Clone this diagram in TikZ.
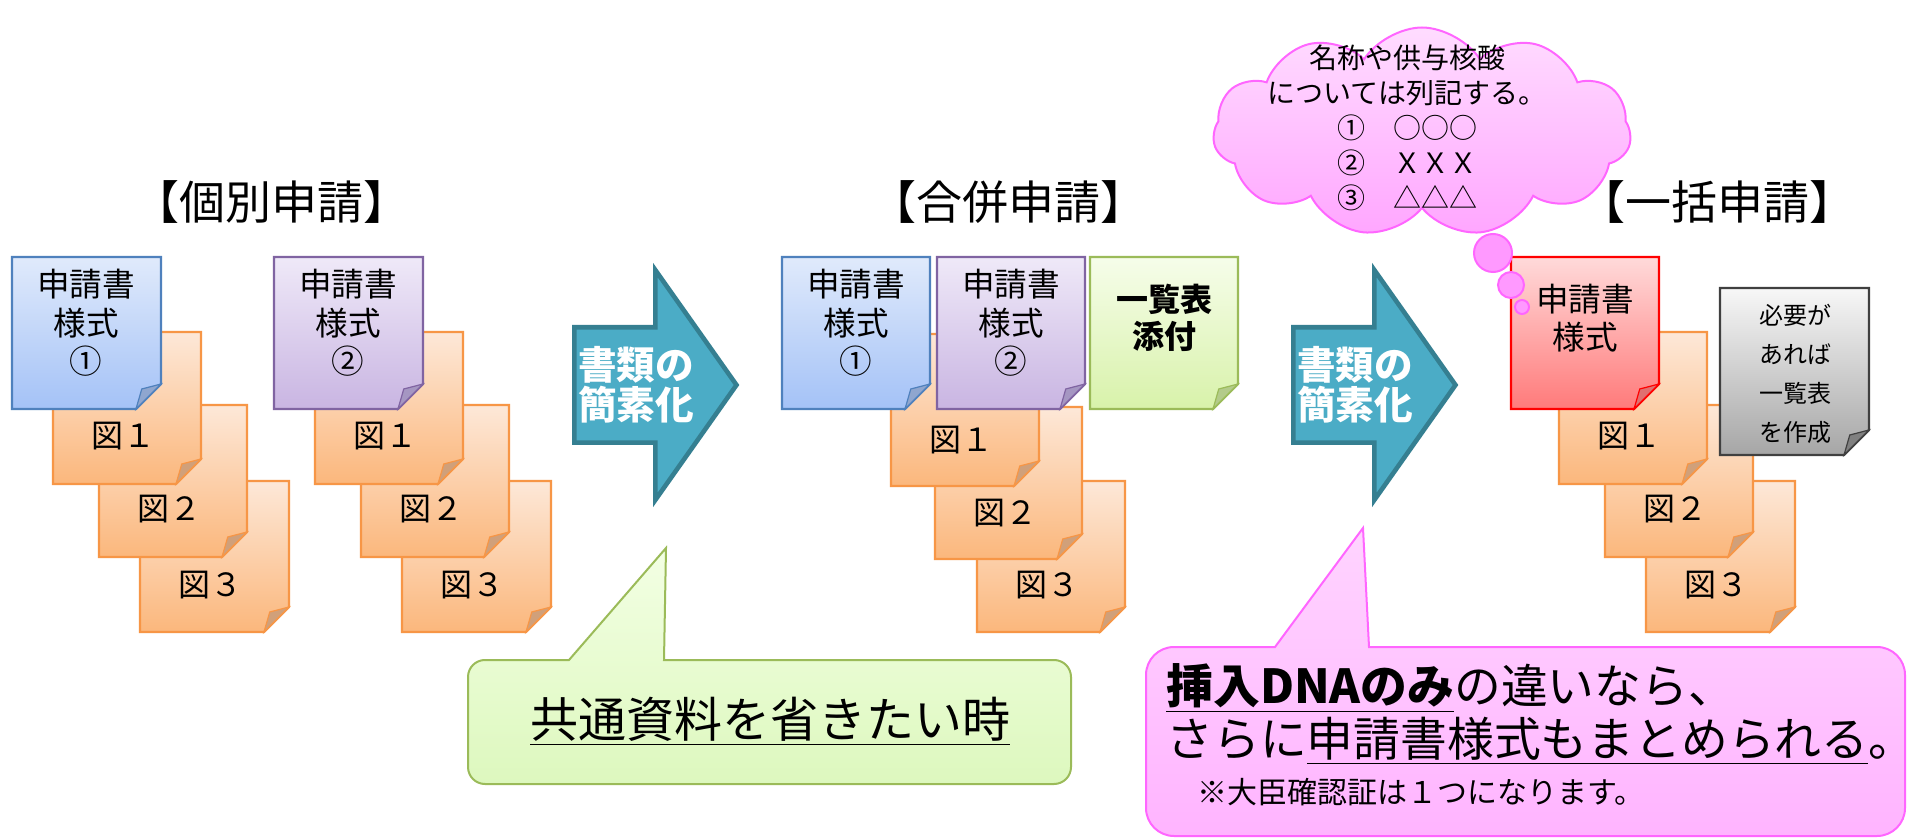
\documentclass[tikz,border=0pt]{standalone}
\usepackage{fontspec}
\setmainfont{Noto Sans CJK JP}
\usetikzlibrary{shapes.symbols}

\definecolor{orBorder}{HTML}{F79646}
\definecolor{orTop}{HTML}{FDE8D8}
\definecolor{orBot}{HTML}{FBB77C}
\definecolor{orFold}{HTML}{D0A07A}
\definecolor{blBorder}{HTML}{4F81BD}
\definecolor{blTop}{HTML}{E0EAFB}
\definecolor{blBot}{HTML}{A4C2F7}
\definecolor{blFold}{HTML}{8FA6CF}
\definecolor{puBorder}{HTML}{8064A2}
\definecolor{puTop}{HTML}{EFE9F8}
\definecolor{puBot}{HTML}{C9B5E2}
\definecolor{puFold}{HTML}{A596C2}
\definecolor{grBorder}{HTML}{9BBB59}
\definecolor{grTop}{HTML}{F6FDEA}
\definecolor{grBot}{HTML}{D8F2AA}
\definecolor{grFold}{HTML}{B3CB8A}
\definecolor{rdBorder}{HTML}{FF0000}
\definecolor{rdTop}{HTML}{FFDADA}
\definecolor{rdBot}{HTML}{FF7A7A}
\definecolor{rdFold}{HTML}{E07070}
\definecolor{gyBorder}{HTML}{404040}
\definecolor{gyTop}{HTML}{F7F7F7}
\definecolor{gyBot}{HTML}{A6A6A6}
\definecolor{gyFold}{HTML}{808080}
\definecolor{arFill}{HTML}{4BACC6}
\definecolor{arBorder}{HTML}{357F91}
\definecolor{pkBorder}{HTML}{FF66FF}
\definecolor{pkTop}{HTML}{FFDCFF}
\definecolor{pkBot}{HTML}{FFA6FF}
\definecolor{pkBub}{HTML}{FF99FF}
\definecolor{cgTop}{HTML}{F3FFE4}
\definecolor{cgBot}{HTML}{DDF8BE}
\definecolor{cpTop}{HTML}{FFD4FF}
\definecolor{cpBot}{HTML}{FFB4FF}

% folded-corner note: x1, y1, x2, y2, fold, colour prefix
\newcommand\foldnote[6]{%
  \path[draw=#6Border, line width=1.1pt, top color=#6Top, bottom color=#6Bot]
    (#1,#2) -- (#3,#2) -- (#3,#4-#5) -- (#3-#5,#4) -- (#1,#4) -- cycle;
  \path[draw=#6Border, line width=0.6pt, fill=#6Fold]
    (#3,#4-#5) -- (#3-0.77*#5,#4-0.8*#5) -- (#3-#5,#4) -- cycle;
}
% stack of three figure sheets: x offset, name prefix
\newcommand\figstack[2]{%
  \foldnote{#1+140}{481}{#1+289}{632}{25}{or}
  \node[figtxt] (#2f3) at (#1+210,585) {図３};
  \foldnote{#1+99}{405}{#1+247}{557}{25}{or}
  \node[figtxt] (#2f2) at (#1+169,509) {図２};
  \foldnote{#1+53}{332}{#1+201}{484}{25}{or}
  \node[figtxt] (#2f1) at (#1+123,436) {図１};
}
% block arrow: x offset
\newcommand\blockarrow[1]{%
  \path[draw=arBorder, fill=arFill, line width=2.3pt, line join=miter]
    (#1+574.3,327.3) -- (#1+655.3,327.3) -- (#1+655.3,270) -- (#1+736.5,385)
    -- (#1+655.3,500) -- (#1+655.3,442.7) -- (#1+574.3,442.7) -- cycle;
}

\tikzset{
  notetxt/.style={align=center, inner sep=0pt, font=\fontsize{16.3pt}{19.25pt}\selectfont},
  figtxt/.style={inner sep=0pt, font=\fontsize{16pt}{18pt}\selectfont},
  ttl/.style={inner sep=0pt, font=\fontsize{23pt}{26pt}\selectfont},
  arrtxt/.style={align=center, inner sep=0pt, text=white, font=\bfseries\fontsize{19.3pt}{20pt}\selectfont},
}

\begin{document}
\begin{tikzpicture}[x=0.5pt,y=-0.5pt]
\useasboundingbox (0,0) rectangle (1917,839);
\fill[white] (0,0) rectangle (1917,839);

% titles
\node[ttl] (t1) at (271,202) {【個別申請】};
\node[ttl] (t2) at (1008,202) {【合併申請】};
\node[ttl] (t3) at (1717,202) {【一括申請】};

% group 1
\figstack{0}{a}
\foldnote{12}{257}{161}{409}{25}{bl}
\node[notetxt] (a0) at (86,323) {申請書\\様式\\①};
% group 2
\figstack{262}{b}
\foldnote{274}{257}{423}{409}{25}{pu}
\node[notetxt] (b0) at (348,323) {申請書\\様式\\②};

% arrow 1
\blockarrow{0}
\node[arrtxt] (ar1) at (636,385) {書類の\\簡素化};

% group 3
\foldnote{977}{481}{1125}{632}{25}{or}
\node[figtxt] (cf3) at (1047,585) {図３};
\foldnote{935}{407}{1082}{559}{25}{or}
\node[figtxt] (cf2) at (1005,513) {図２};
\foldnote{891}{334}{1039}{486}{25}{or}
\node[figtxt] (cf1) at (961,440) {図１};
\foldnote{782}{257}{930}{409}{25}{bl}
\node[notetxt] (c0) at (856,323) {申請書\\様式\\①};
\foldnote{937}{257}{1085}{409}{25}{pu}
\node[notetxt] (c1) at (1011,323) {申請書\\様式\\②};
\foldnote{1090}{257}{1238}{409}{25}{gr}
\node[notetxt, font=\bfseries\fontsize{16pt}{18.5pt}\selectfont] (c2) at (1164,318) {一覧表\\添付};

% arrow 2
\blockarrow{719}
\node[arrtxt] (ar2) at (1355,385) {書類の\\簡素化};

% group 4
\figstack{1506}{d}
\foldnote{1511}{257}{1659}{409}{25}{rd}
\node[notetxt] (d0) at (1585,318) {申請書\\様式};
\foldnote{1720}{288}{1869}{455}{25}{gy}
\node[notetxt, font=\fontsize{12pt}{19.5pt}\selectfont] (d1) at (1795,374) {必要が\\あれば\\一覧表\\を作成};

% thought cloud
\node[cloud, cloud puffs=11, cloud puff arc=115, cloud ignores aspect,
      minimum width=209pt, minimum height=104.5pt, draw=pkBorder, line width=1pt,
      top color=pkTop, bottom color=pkBot] (cloud) at (1422,132) {};
\node[align=center, inner sep=0pt, font=\fontsize{14pt}{17.5pt}\selectfont] (cloudtxt) at (1407,128)
  {名称や供与核酸\\については列記する。\\①　○○○\\②　ＸＸＸ\\③　△△△};
\path[draw=pkBorder, fill=pkBub, line width=1pt] (1493,253) circle[radius=19];
\path[draw=pkBorder, fill=pkBub, line width=1pt] (1511,285) circle[radius=13];
\path[draw=pkBorder, fill=pkBub, line width=1pt] (1522,307) circle[radius=7];

% green callout
\path[draw=grBorder, line width=1pt, top color=cgTop, bottom color=cgBot]
  (468+17,660) -- (569,660) -- (666,548) -- (664,660) -- (1071-17,660)
  arc[start angle=270, end angle=360, radius=17] -- (1071,784-17)
  arc[start angle=0, end angle=90, radius=17] -- (468+17,784)
  arc[start angle=90, end angle=180, radius=17] -- (468,660+17)
  arc[start angle=180, end angle=270, radius=17] -- cycle;
\node[inner sep=0pt, font=\fontsize{24pt}{28pt}\selectfont] (gtxt) at (770,721) {\underline{共通資料を省きたい時}};

% pink callout
\path[draw=pkBorder, line width=1pt, top color=cpTop, bottom color=cpBot]
  (1146+28,647) -- (1275,647) -- (1363,528) -- (1369,647) -- (1905-28,647)
  arc[start angle=270, end angle=360, radius=28] -- (1905,836-28)
  arc[start angle=0, end angle=90, radius=28] -- (1146+28,836)
  arc[start angle=90, end angle=180, radius=28] -- (1146,647+28)
  arc[start angle=180, end angle=270, radius=28] -- cycle;
\node[anchor=west, inner sep=0pt, font=\fontsize{23.4pt}{28pt}\selectfont] (p1) at (1166,688)
  {\textbf{\underline{挿入DNAのみ}}の違いなら、};
\node[anchor=west, inner sep=0pt, font=\fontsize{23.4pt}{28pt}\selectfont] (p2) at (1166,741)
  {さらに\underline{申請書様式もまとめられる}。};
\node[anchor=west, inner sep=0pt, font=\fontsize{15pt}{18pt}\selectfont] (p3) at (1197,792)
  {※大臣確認証は１つになります。};
\end{tikzpicture}
\end{document}
